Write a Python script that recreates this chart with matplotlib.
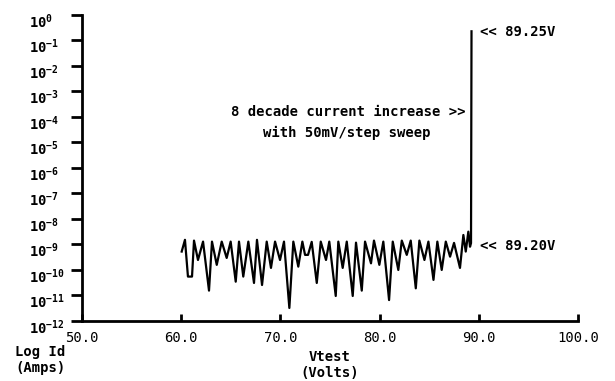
import matplotlib
matplotlib.use("Agg")
import matplotlib.pyplot as plt
import matplotlib.transforms as mtransforms
import numpy as np

# Data: Vtest (V) and log10 of Id (A)
vtest = [60.07, 60.40, 60.70, 61.11, 61.31, 61.71, 62.22, 62.82, 63.12, 63.60,
         64.10, 64.60, 65.00, 65.51, 65.84, 66.27, 66.78, 67.35, 67.65, 68.16,
         68.63, 69.06, 69.47, 69.97, 70.37, 70.91, 71.31, 71.81, 72.22, 72.49,
         72.79, 73.16, 73.67, 74.07, 74.60, 74.93, 75.58, 75.84, 76.28, 76.69,
         77.29, 77.62, 78.20, 78.53, 79.13, 79.43, 79.97, 80.37, 80.95, 81.32,
         81.88, 82.23, 82.73, 83.13, 83.64, 84.00, 84.51, 84.91, 85.42, 85.81,
         86.25, 86.66, 87.09, 87.49, 88.09, 88.43, 88.67, 88.93, 89.10, 89.20,
         89.25]
log_id = [-9.28, -8.82, -10.26, -10.26, -8.85, -9.61, -8.89, -10.81, -8.89, -9.80,
          -8.89, -9.53, -8.89, -10.46, -8.89, -10.26, -8.89, -10.51, -8.82, -10.59,
          -8.89, -9.92, -8.89, -9.61, -8.89, -11.49, -8.89, -9.87, -8.89, -9.41,
          -9.41, -8.90, -10.51, -8.89, -9.61, -8.89, -11.02, -8.89, -9.92, -8.89,
          -11.02, -8.93, -10.81, -8.89, -9.74, -8.85, -9.80, -8.89, -11.18, -8.89,
          -10.00, -8.85, -9.41, -8.85, -10.72, -8.85, -9.61, -8.89, -10.39, -8.89,
          -10.00, -8.89, -9.48, -8.94, -9.92, -8.63, -9.28, -8.50, -9.09, -8.95,
          -0.65]
id_amps = [10.0 ** v for v in log_id]

x_ticks = [50, 60, 70, 80, 90, 100]
x_ticklabels = ["50.0", "60.0", "70.0", "80.0", "90.0", "100.0"]
y_exponents = list(range(0, -13, -1))

mono = "DejaVu Sans Mono"
plt.rcParams['mathtext.fontset'] = 'custom'
plt.rcParams['mathtext.rm'] = 'DejaVu Sans Mono:bold'
plt.rcParams['mathtext.bf'] = 'DejaVu Sans Mono:bold'

fig = plt.figure(figsize=(6.15, 3.81), dpi=100)
ax = fig.add_axes([0.1328, 0.1575, 0.8075, 0.8039])

ax.plot(vtest, id_amps, color="black", lw=1.6, solid_joinstyle="round")

ax.set_yscale("log")
ax.set_xlim(50, 100)
ax.set_ylim(1e-12, 1)

ax.set_xticks(x_ticks)
ax.set_xticklabels(x_ticklabels, fontfamily=mono, fontsize=10)
ax.set_yticks([10.0 ** e for e in y_exponents])
ax.set_yticklabels([r"$\mathbf{10^{%d}}$" % e for e in y_exponents], fontsize=10,
                   ha="left")
ax.yaxis.set_minor_locator(matplotlib.ticker.NullLocator())

for s in ["top", "right"]:
    ax.spines[s].set_visible(False)
for s in ["left", "bottom"]:
    ax.spines[s].set_linewidth(2)

ax.tick_params(axis="y", direction="out", length=8, width=2, pad=30)
ax.tick_params(axis="x", direction="in", length=5, width=2, pad=7)

offset = mtransforms.ScaledTranslation(0, -5 / 100, fig.dpi_scale_trans)
for lab in ax.get_yticklabels():
    lab.set_transform(lab.get_transform() + offset)

txt = dict(fontfamily=mono, fontsize=10, fontweight="bold", color="black")
fig.text(15 / 615, 1 - 352 / 381, "Log Id", ha="left", va="center", **txt)
fig.text(15 / 615, 1 - 368 / 381, "(Amps)", ha="left", va="center", **txt)
fig.text(330 / 615, 1 - 357 / 381, "Vtest", ha="center", va="center", **txt)
fig.text(330 / 615, 1 - 373 / 381, "(Volts)", ha="center", va="center", **txt)

fig.text(480 / 615, 1 - 32 / 381, "<< 89.25V", ha="left", va="center", **txt)
fig.text(480 / 615, 1 - 246 / 381, "<< 89.20V", ha="left", va="center", **txt)
fig.text(348 / 615, 1 - 112 / 381, "8 decade current increase >>", ha="center", va="center", **txt)
fig.text(347 / 615, 1 - 133 / 381, "with 50mV/step sweep", ha="center", va="center", **txt)

fig.savefig("out.png", dpi=100)
